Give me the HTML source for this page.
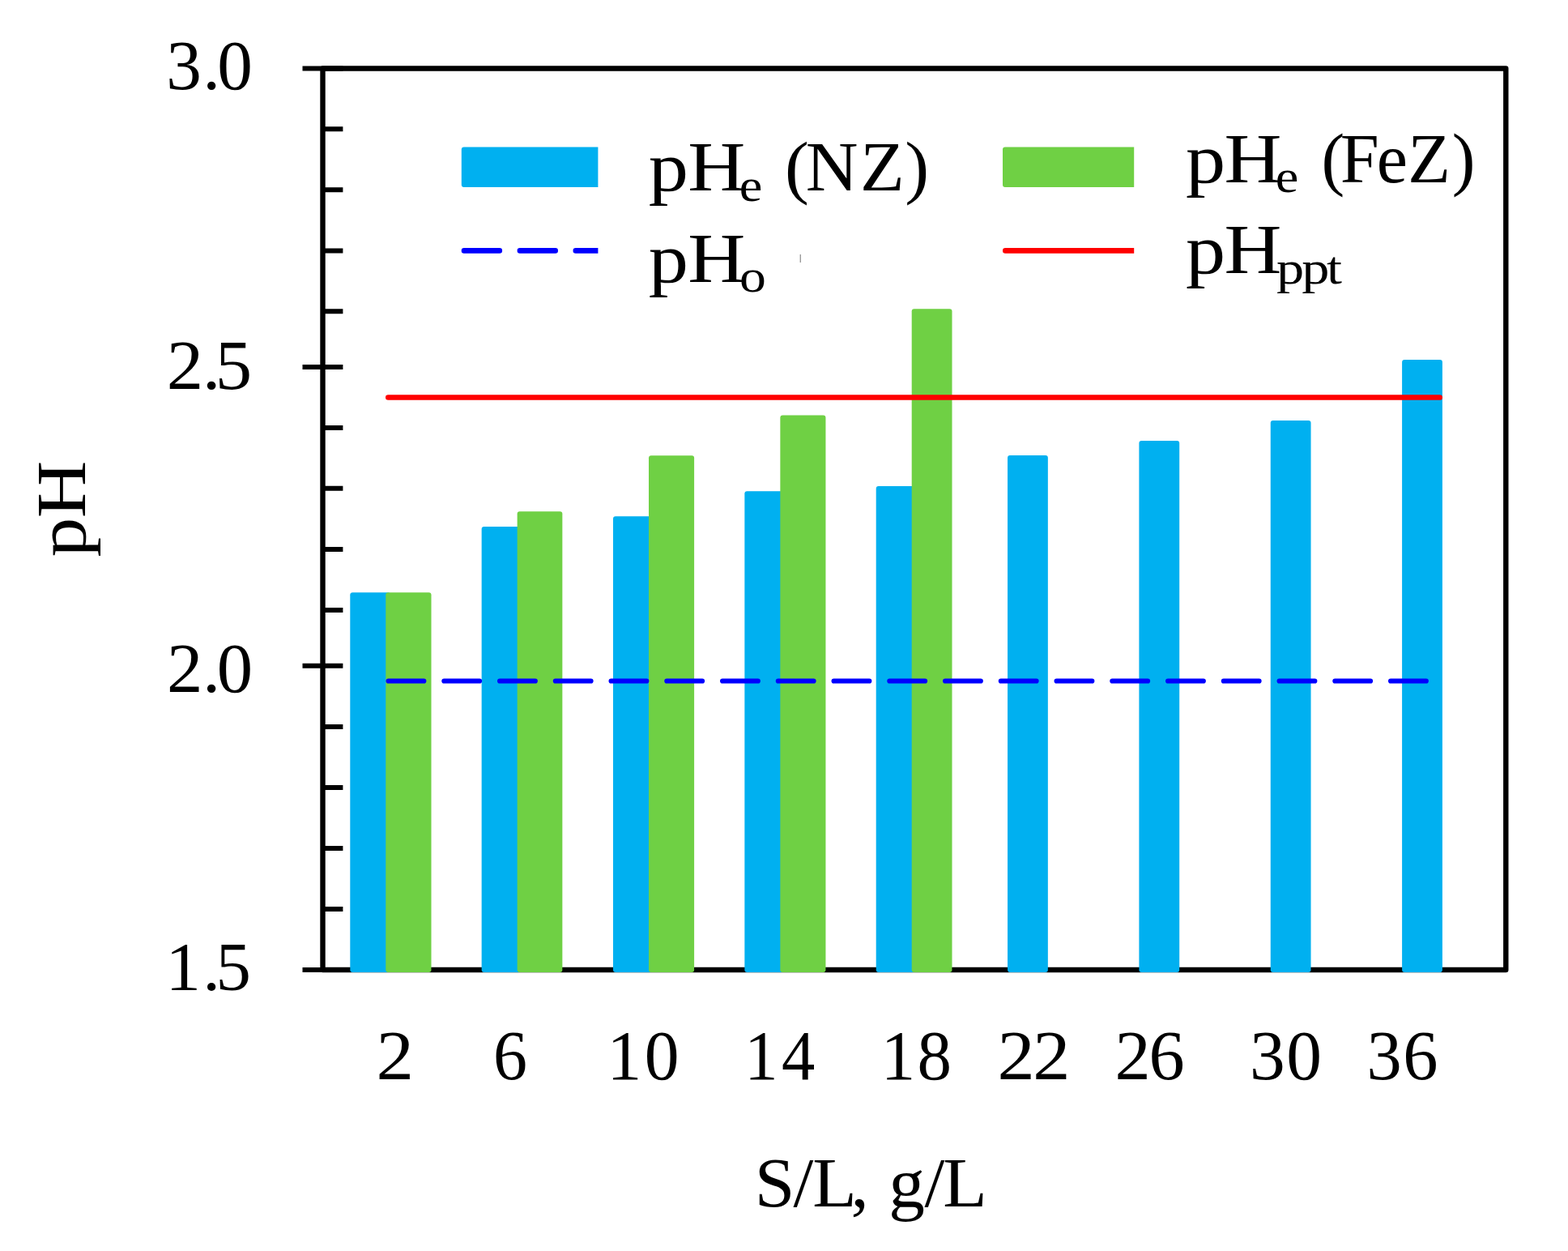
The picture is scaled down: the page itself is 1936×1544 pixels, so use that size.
<!DOCTYPE html>
<html lang="en"><head><meta charset="utf-8"><title>pH vs S/L</title>
<style>html,body{margin:0;padding:0;background:#fff;}svg{display:block;}</style></head>
<body>
<svg width="1936" height="1544" viewBox="0 0 1936 1544">
<rect width="1936" height="1544" fill="#fff"/>
<path d="M398.5 84.5H1859.3V1197H398.5Z" fill="none" stroke="#000" stroke-width="6.4" stroke-linejoin="round"/>
<path d="M373.5 84.5H423.4M373.5 452.9H423.4M373.5 821.8H423.4M373.5 1197H423.4M398.5 159.3H423.4M398.5 234.3H423.4M398.5 309.4H423.4M398.5 384.2H423.4M398.5 527.9H423.4M398.5 602.8H423.4M398.5 678.1H423.4M398.5 752.9H423.4M398.5 897H423.4M398.5 972H423.4M398.5 1046.9H423.4M398.5 1121.9H423.4" stroke="#000" stroke-width="6" fill="none"/>
<rect x="432.3" y="731.3" width="49.8" height="468.7" rx="3" fill="#00B0F0"/>
<rect x="594.65" y="649.9" width="49.8" height="550.1" rx="3" fill="#00B0F0"/>
<rect x="757" y="637.3" width="49.8" height="562.7" rx="3" fill="#00B0F0"/>
<rect x="919.35" y="606.3" width="49.8" height="593.7" rx="3" fill="#00B0F0"/>
<rect x="1081.7" y="600" width="49.8" height="600" rx="3" fill="#00B0F0"/>
<rect x="1244.05" y="562.1" width="49.8" height="637.9" rx="3" fill="#00B0F0"/>
<rect x="1406.4" y="544" width="49.8" height="656" rx="3" fill="#00B0F0"/>
<rect x="1568.75" y="519" width="49.8" height="681" rx="3" fill="#00B0F0"/>
<rect x="1731.1" y="443.9" width="49.8" height="756.1" rx="3" fill="#00B0F0"/>
<rect x="476.3" y="731.3" width="56.2" height="468.7" rx="3" fill="#6FD044"/>
<rect x="638.65" y="631.2" width="55.7" height="568.8" rx="3" fill="#6FD044"/>
<rect x="801" y="562.3" width="56.1" height="637.7" rx="3" fill="#6FD044"/>
<rect x="963.35" y="512.4" width="56.1" height="687.6" rx="3" fill="#6FD044"/>
<rect x="1125.7" y="381.2" width="49.8" height="818.8" rx="3" fill="#6FD044"/>
<path d="M479.3 490.5H1777.7" stroke="#FF0000" stroke-width="6.6" stroke-linecap="round"/>
<path d="M479.6 840.5H1760.8" stroke="#0000FF" stroke-width="6.2" stroke-linecap="round" stroke-dasharray="43.7 25.05"/>
<clipPath id="cl"><rect x="560" y="170" width="178.4" height="160"/></clipPath>
<clipPath id="cr"><rect x="1228" y="170" width="172.2" height="160"/></clipPath>
<rect x="569.8" y="181.4" width="180" height="49.5" rx="3" fill="#00B0F0" clip-path="url(#cl)"/>
<rect x="1238" y="181.4" width="180" height="49.5" rx="3" fill="#6FD044" clip-path="url(#cr)"/>
<path d="M573 309.4H760" stroke="#0000FF" stroke-width="6.6" stroke-linecap="round" stroke-dasharray="43.8 25.1" clip-path="url(#cl)"/>
<path d="M1241.3 309.4H1420" stroke="#FF0000" stroke-width="6.6" stroke-linecap="round" clip-path="url(#cr)"/>
<path d="M988.3 314V324" stroke="#9a9a9a" stroke-width="1.4"/>
<g font-family='"Liberation Serif", serif' fill="#000">
<text transform="translate(205.21 109.97) scale(1.0112 1)" x="0 44.44 62.29" font-size="86.27" xml:space="preserve">3.0</text>
<text transform="translate(205.67 479.63) scale(1.0401 1)" x="-0 42.39 57.67" font-size="87.27" xml:space="preserve">2.5</text>
<text transform="translate(206.11 853.88) scale(1.0337 1)" x="0 42.42 59.7" font-size="85.82" xml:space="preserve">2.0</text>
<text transform="translate(204.43 1222.15) scale(1.0174 1)" x="0 44.98 60.97" font-size="85.37" xml:space="preserve">1.5</text>
<text transform="translate(464.38 1331.6) scale(1.0690 1)" x="0" font-size="87" xml:space="preserve">2</text>
<text transform="translate(608.94 1331.6) scale(0.9650 1)" x="-0" font-size="87" xml:space="preserve">6</text>
<text transform="translate(749.57 1331.6) scale(0.9837 1)" x="-0 46.9" font-size="87" xml:space="preserve">10</text>
<text transform="translate(919.31 1331.6) scale(0.9493 1)" x="-0 48.02" font-size="87" xml:space="preserve">14</text>
<text transform="translate(1087.64 1331.6) scale(0.9763 1)" x="-0 46.07" font-size="87" xml:space="preserve">18</text>
<text transform="translate(1231.58 1331.6) scale(1.0618 1)" x="0 41.11" font-size="87" xml:space="preserve">22</text>
<text transform="translate(1376.4 1331.6) scale(1.0151 1)" x="0 41.5" font-size="87" xml:space="preserve">26</text>
<text transform="translate(1543.06 1331.6) scale(1.0068 1)" x="0 44.78" font-size="87" xml:space="preserve">30</text>
<text transform="translate(1687.56 1331.6) scale(0.9934 1)" x="-0 45" font-size="87" xml:space="preserve">36</text>
<text transform="translate(931.73 1488.5) scale(1.0312 1)" x="0 46.39 69.25 115.28 136.9 160.43 203.5 225.58" font-size="86.5" xml:space="preserve">S/L, g/L</text>
<text transform="translate(800.72 235) scale(1.1382 1)" x="-0 42.73" font-size="86.5" xml:space="preserve">pH</text>
<text transform="translate(912.73 247.9) scale(1.1285 1)" x="0" font-size="57" xml:space="preserve">e</text>
<text transform="translate(969.07 235) scale(1.0357 1)" x="0 24.84 89.85 142.99" font-size="86.5" xml:space="preserve">(NZ)</text>
<text transform="translate(800.72 347.9) scale(1.1382 1)" x="-0 42.73" font-size="86.5" xml:space="preserve">pH</text>
<text transform="translate(912.97 360.3) scale(1.1529 1)" x="0" font-size="57" xml:space="preserve">o</text>
<text transform="translate(1463.94 225) scale(1.1372 1)" x="-0 41.77" font-size="86.5" xml:space="preserve">pH</text>
<text transform="translate(1574.83 237.2) scale(1.1285 1)" x="-0" font-size="57" xml:space="preserve">e</text>
<text transform="translate(1631.49 225) scale(0.9970 1)" x="-0 23.31 68.41 106.97 161.84" font-size="86.5" xml:space="preserve">(FeZ)</text>
<text transform="translate(1464.09 336.8) scale(1.1350 1)" x="-0 41.78" font-size="86.5" xml:space="preserve">pH</text>
<text transform="translate(1576.05 350.1) scale(1.1988 1)" x="0 25.94 51.66" font-size="57" xml:space="preserve">ppt</text>
<text transform="translate(104.5 0) rotate(-90) translate(-687.55 0) scale(1.1298 1)" x="-0 42.86" font-size="86.5">pH</text>
</g>
</svg>
</body></html>
